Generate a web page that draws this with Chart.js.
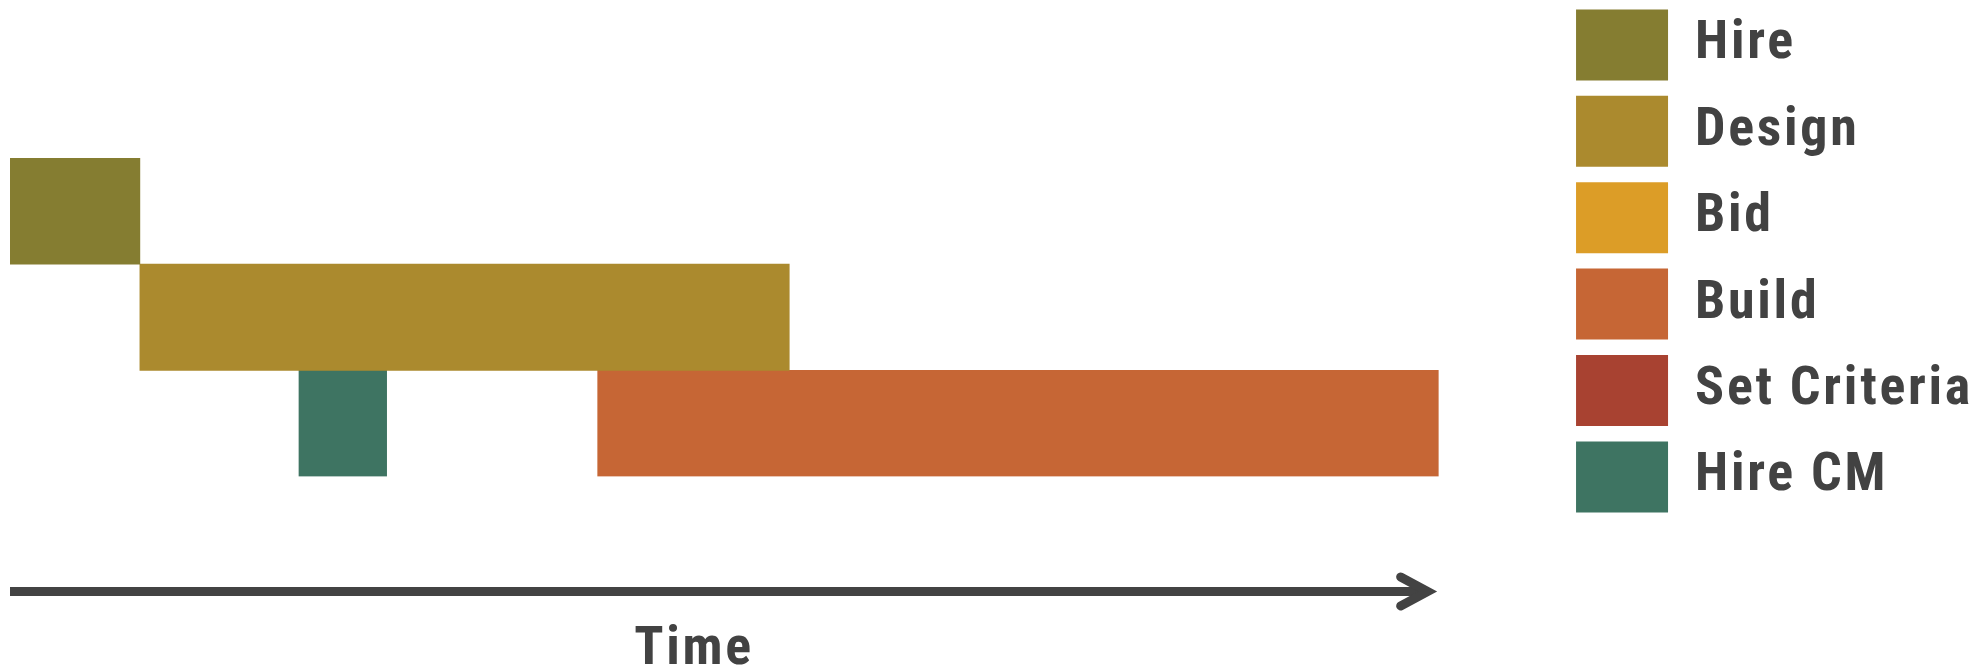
<!DOCTYPE html>
<html><head><meta charset="utf-8">
<script src="https://cdn.jsdelivr.net/npm/chart.js@4.4.1/dist/chart.umd.min.js"></script>
<style>html,body{margin:0;padding:0;background:#fff;overflow:hidden}#wrap{width:1982px;height:668px}</style>
</head><body>
<div id="wrap"><canvas id="c" width="1982" height="668"></canvas></div>
<script>
// ---- data ----
const rows = ['Hire', 'Design', 'Build'];
const tasks = ['Hire', 'Design', 'Bid', 'Build', 'Set Criteria', 'Hire CM'];
const taskRow = [0, 1, null, 2, null, 2];
const taskStart = [0, 2, null, 9.05, null, 4.45];
const taskEnd = [2, 12, null, 22, null, 5.8];
const timeMin = 0;
const timeMax = 22;
const axisLabel = 'Time';
// ---- styles ----
const colors = ['#857D31', '#AB8A2E', '#DC9D27', '#C66635', '#A84231', '#3E7462'];
const textColor = '#424242';
const FAMILY = "'Roboto Condensed', 'Liberation Sans Narrow', 'DejaVu Sans Condensed', 'Liberation Sans', sans-serif";

const datasets = tasks.map((t, i) => ({
  label: t,
  data: rows.map((r, j) => taskRow[i] === j ? [taskStart[i], taskEnd[i]] : null),
  backgroundColor: colors[i],
  borderWidth: 0,
  grouped: false,
  barPercentage: 1,
  categoryPercentage: 1
}));

const spacingPlugin = {
  id: 'spacing',
  beforeUpdate(chart) { chart.ctx.letterSpacing = '2.7px'; }
};

const arrowPlugin = {
  id: 'timeArrow',
  afterDraw(chart) {
    const xs = chart.scales.x;
    const ctx = chart.ctx;
    const x0 = xs.getPixelForValue(timeMin);
    const x1 = xs.getPixelForValue(timeMax);
    const y = xs.top + 115;
    ctx.save();
    ctx.strokeStyle = '#434343';
    ctx.lineWidth = 9;
    ctx.lineCap = 'butt';
    ctx.beginPath();
    ctx.moveTo(x0, y);
    ctx.lineTo(x1 - 12, y);
    ctx.stroke();
    ctx.lineCap = 'round';
    ctx.lineJoin = 'miter';
    ctx.beginPath();
    ctx.moveTo(x1 - 38, y - 14.5);
    ctx.lineTo(x1 - 11, y);
    ctx.lineTo(x1 - 38, y + 14.5);
    ctx.stroke();
    ctx.restore();
  }
};

new Chart(document.getElementById('c'), {
  type: 'bar',
  data: { labels: rows, datasets },
  options: {
    indexAxis: 'y',
    responsive: false,
    animation: false,
    devicePixelRatio: 1,
    layout: { padding: { top: -6, left: 10, right: -1, bottom: 0 } },
    scales: {
      x: {
        type: 'linear', min: timeMin, max: timeMax,
        ticks: { display: false },
        grid: { display: false, drawTicks: false },
        border: { display: false },
        title: {
          display: true, text: axisLabel + '    ', color: textColor,
          font: { family: FAMILY, size: 54, weight: 'bold', lineHeight: 0.58 },
          padding: { top: 158.2, bottom: 2 }
        }
      },
      y: {
        type: 'category', position: 'right',
        ticks: { display: false },
        grid: { display: false, drawTicks: false },
        border: { display: false },
        afterFit(s) { s.width = 122; }
      }
    },
    plugins: {
      legend: {
        position: 'right', align: 'start',
        labels: {
          boxWidth: 92, boxHeight: 71, padding: 15.4, color: textColor,
          font: { family: FAMILY, size: 54, weight: 'bold' }
        }
      },
      title: { display: true, text: '', fullSize: false, font: { size: 10, lineHeight: 1 }, padding: { top: 154, bottom: 0 } },
      tooltip: { enabled: false }
    }
  },
  plugins: [spacingPlugin, arrowPlugin]
});
</script>
</body></html>
